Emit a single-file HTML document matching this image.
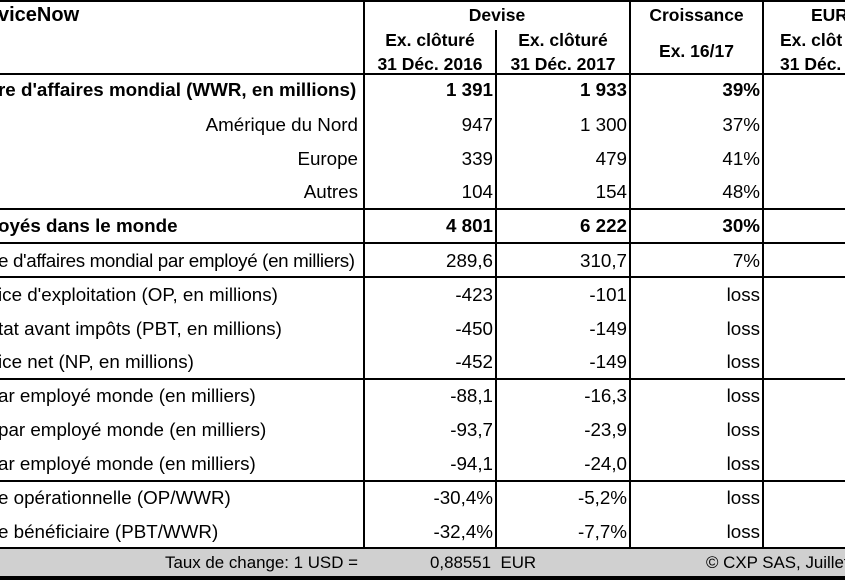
<!DOCTYPE html>
<html><head><meta charset="utf-8"><style>
body{margin:0;width:845px;height:580px;overflow:hidden;background:#fff;font-family:"Liberation Sans",Arial,sans-serif;color:#000;position:relative}
.t{position:absolute;font-size:18.8px;white-space:nowrap;line-height:22px}
.b{font-weight:bold}
.h{position:absolute;left:0;width:845px;background:#000}
.v{position:absolute;width:2px;background:#000}
.r{text-align:right}
.c{text-align:center}
</style></head><body>
<div class="h" style="top:0;height:2px"></div>
<div class="h" style="top:549px;height:27px;background:#d0d0d0"></div>
<div class="h" style="top:576px;height:4px"></div>
<div class="h" style="top:73px;height:2px"></div>
<div class="h" style="top:208px;height:2px"></div>
<div class="h" style="top:242px;height:2px"></div>
<div class="h" style="top:276px;height:2px"></div>
<div class="h" style="top:378px;height:2px"></div>
<div class="h" style="top:480px;height:2px"></div>
<div class="h" style="top:547px;height:2px"></div>

<div class="t b" style="left:-2px;top:4px;font-size:20px">viceNow</div>
<div class="t b c" style="left:365px;width:264px;top:4px;font-size:17.5px">Devise</div>
<div class="t b c" style="left:631px;width:131px;top:4px;font-size:17.5px">Croissance</div>
<div class="t b" style="left:811px;top:4px;font-size:17.5px">EUR</div>
<div class="t b c" style="left:365px;width:130px;top:28px;line-height:24px;font-size:17.5px">Ex. clôturé<br>31 Déc. 2016</div>
<div class="t b c" style="left:497px;width:132px;top:28px;line-height:24px;font-size:17.5px">Ex. clôturé<br>31 Déc. 2017</div>
<div class="t b c" style="left:631px;width:131px;top:40px;font-size:17.5px">Ex. 16/17</div>
<div class="t b" style="left:780px;top:28px;line-height:24px;font-size:17.5px">Ex. clôt<br>31 Déc.</div>

<div id="rows"></div>
<div class="v" style="left:363px;top:0;height:549px"></div>
<div class="v" style="left:495px;top:30px;height:519px"></div>
<div class="v" style="left:629px;top:0;height:549px"></div>
<div class="v" style="left:762px;top:0;height:549px"></div>
<div class="t" style="left:165px;top:552px;font-size:16.9px">Taux de change: 1 USD =</div>
<div class="t" style="left:430px;top:552px;font-size:16.9px">0,88551&nbsp; EUR</div>
<div class="t" style="left:706px;top:552px;font-size:16.9px">© CXP SAS, Juillet</div>
<script>
const labels=["re d'affaires mondial (WWR, en millions)","Amérique du Nord","Europe","Autres","oyés dans le monde","e d'affaires mondial par employé (en milliers)","ice d'exploitation (OP, en millions)","tat avant impôts (PBT, en millions)","ice net (NP, en millions)","ar employé monde (en milliers)","par employé monde (en milliers)","ar employé monde (en milliers)","e opérationnelle (OP/WWR)","e bénéficiaire (PBT/WWR)"];
const v2016=["1 391","947","339","104","4 801","289,6","-423","-450","-452","-88,1","-93,7","-94,1","-30,4%","-32,4%"];
const v2017=["1 933","1 300","479","154","6 222","310,7","-101","-149","-149","-16,3","-23,9","-24,0","-5,2%","-7,7%"];
const growth=["39%","37%","41%","48%","30%","7%","loss","loss","loss","loss","loss","loss","loss","loss"];
const bold=[1,0,0,0,1,0,0,0,0,0,0,0,0,0];
const rightLabel=[0,1,1,1,0,0,0,0,0,0,0,0,0,0];
const ys=[90,125,159,192,226,261,295,329,362,396,430,464,498,532];
const root=document.getElementById('rows');
function cell(txt,style,b,name){
  const d=document.createElement('div');
  d.className='t'+(b?' b':'');
  d.textContent=txt;d.style.cssText=style;
  
  
  root.appendChild(d);
}
labels.forEach((l,i)=>{
  const top=(ys[i]-11)+'px';
  if(rightLabel[i]) cell(l,'right:'+(845-358)+'px;top:'+top,bold[i],'row-label');
  else cell(l,'left:-2px;top:'+top+(l.length>42?';letter-spacing:-0.35px':''),bold[i],'row-label');
  cell(v2016[i],'right:'+(845-493)+'px;top:'+top,bold[i],'value-2016');
  cell(v2017[i],'right:'+(845-627)+'px;top:'+top,bold[i],'value-2017');
  cell(growth[i],'right:'+(845-760)+'px;top:'+top,bold[i],'growth-value');
});
</script>
</body></html>
